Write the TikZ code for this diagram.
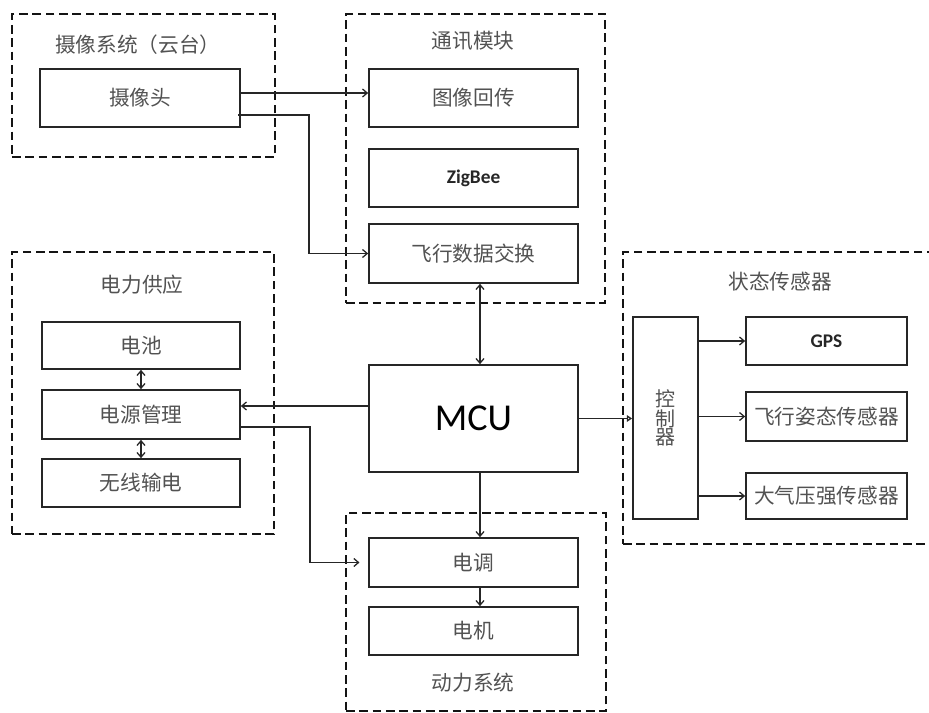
\documentclass[tikz,border=0pt]{standalone}
\usepackage{fontspec}
\newfontfamily\cjk{Noto Sans CJK SC}
\newfontfamily\lat{Carlito}
\usetikzlibrary{arrows.meta,fit}
\begin{document}
\begin{tikzpicture}[x=0.75pt,y=-0.75pt,
  box/.style={draw=black!85, line width=1.3pt, inner sep=0pt},
  zh/.style={font=\cjk\fontsize{15.5}{17}\selectfont, text=black!68, inner sep=0pt},
  en/.style={font=\lat\bfseries\fontsize{14.5}{16}\selectfont, text=black!85, inner sep=0pt},
  group/.style={draw=black!92, line width=2.1pt, dash pattern=on 6.5pt off 3.5pt, inner sep=0pt},
  arr/.style={line width=0.95pt, draw=black!85, -{Straight Barb[length=3.5pt,width=6pt]}},
  darr/.style={line width=0.95pt, draw=black!85, {Straight Barb[length=3.5pt,width=6pt]}-{Straight Barb[length=3.5pt,width=6pt]}},
  tarr/.style={line width=0.95pt, draw=black!85, -{Triangle[open,length=4pt,width=5pt]}}]
\useasboundingbox (0,0) rectangle (929,713);

% group frames
\node[group, fit={(12,14) (275,157)}] (gcam) {};
\node[group, fit={(346,14) (605,303)}] (gcom) {};
\node[group, fit={(12,252) (274,534)}] (gpow) {};
\node[group, fit={(623,252) (940,544)}] (gsen) {};
\node[group, fit={(346,513) (606,711)}] (gdyn) {};

% titles
\node[zh] (tcam) at (138,45) {摄像系统（云台）};
\node[zh] (tcom) at (473,41) {通讯模块};
\node[zh] (tpow) at (142,285) {电力供应};
\node[zh] (tsen) at (780,282) {状态传感器};
\node[zh] (tdyn) at (473,683) {动力系统};

% boxes
\node[box, fit={(40,69) (240,127)}, label={[zh]center:摄像头}] (cam) {};
\node[box, fit={(369,69) (578,127)}, label={[zh]center:图像回传}] (img) {};
\node[box, fit={(369,149) (578,207)}, label={[en]center:ZigBee}] (zig) {};
\node[box, fit={(369,224) (578,283)}, label={[zh]center:飞行数据交换}] (fdx) {};
\node[box, fit={(42,322) (240,369)}, label={[zh]center:电池}] (bat) {};
\node[box, fit={(42,390) (240,439)}, label={[zh]center:电源管理}] (pm) {};
\node[box, fit={(42,459) (240,507)}, label={[zh]center:无线输电}] (wx) {};
\node[box, fit={(369,365) (578,472)}, label={[en, font=\lat\fontsize{28.5}{30}\selectfont, text=black]center:MCU}] (mcu) {};
\node[box, fit={(633,317) (698,519)}, label={[zh, align=center, font=\cjk\fontsize{15}{13.5}\selectfont]center:控\\制\\器}] (ctl) {};
\node[box, fit={(746,317) (907,365)}, label={[en]center:GPS}] (gps) {};
\node[box, fit={(746,392) (907,441)}, label={[zh]center:飞行姿态传感器}] (att) {};
\node[box, fit={(746,473) (907,519)}, label={[zh]center:大气压强传感器}] (baro) {};
\node[box, fit={(369,538) (578,587)}, label={[zh]center:电调}] (esc) {};
\node[box, fit={(369,607) (578,655)}, label={[zh]center:电机}] (mot) {};

% helper coordinates
\coordinate (ya) at (0,93);
\coordinate (yb) at (0,115);
\coordinate (yc) at (0,406);
\coordinate (yd) at (0,427);
\coordinate (xm) at (480,0);

% connectors
\draw[arr] (cam.east |- ya) -- (img.west |- ya);
\draw[arr] ([xshift=-2pt]cam.east |- yb) -- (309,115) |- (fdx.west);
\draw[darr] (fdx.south -| xm) -- (mcu.north -| xm);
\draw[arr] (mcu.west |- yc) -- (pm.east |- yc);
\draw[arr, shorten >=6.5pt] (pm.east |- yd) -- (310,427) |- (esc.west);
\draw[arr] (mcu.south -| xm) -- (esc.north -| xm);
\draw[arr] (esc.south -| xm) -- (mot.north -| xm);
\draw[darr] (bat.south) -- (pm.north);
\draw[darr] (pm.south) -- (wx.north);
\draw[tarr] (mcu.east) -- (ctl.west |- mcu.east);
\draw[arr] (ctl.east |- gps.west) -- (gps.west);
\draw[arr] (ctl.east |- att.west) -- (att.west);
\draw[arr] (ctl.east |- baro.west) -- (baro.west);
\end{tikzpicture}
\end{document}
